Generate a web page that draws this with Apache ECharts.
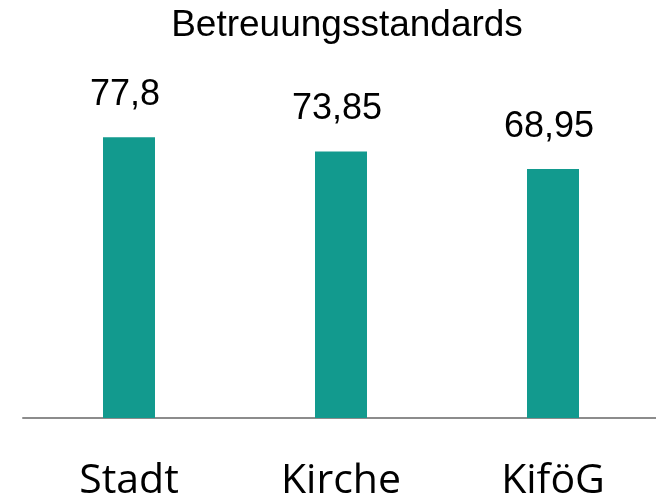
<!DOCTYPE html>
<html><head><meta charset="utf-8">
<script src="https://cdn.jsdelivr.net/npm/echarts@6/dist/echarts.min.js"></script>
<style>html,body{margin:0;padding:0;background:#fff}#c{width:656px;height:499px}</style>
</head><body><div id="c"></div>
<script>
const categories = ["Stadt", "Kirche", "KifötG".replace("öt","ö")];
const values = [77.8, 73.85, 68.95];
const valueLabels = ["77,8", "73,85", "68,95"];
const titleText = "Betreuungsstandards";

const chart = echarts.init(document.getElementById('c'));
chart.setOption({
  animation: false,
  title: { text: titleText, left: 342, textAlign: 'center', top: 2,
    textStyle: { fontFamily: 'Liberation Sans', fontSize: 37, fontWeight: 'normal', color: '#000' } },
  grid: { left: 23, right: -3, top: 57, bottom: 81, outerBoundsMode: 'none', containLabel: false },
  xAxis: { type: 'category', data: categories,
    axisLine: { lineStyle: { color: '#8c8c8c', width: 2 } },
    axisTick: { show: false },
    axisLabel: { fontFamily: 'Open Sans', fontSize: 41, color: '#000', margin: 43 } },
  yAxis: { type: 'value', min: 0, max: 100, show: false, splitLine: { show: false } },
  series: [{ type: 'bar', data: values, barWidth: 52,
    itemStyle: { color: '#129a8e' },
    label: { show: true, position: 'top', distance: 24, offset: [-4, 0],
      formatter: p => valueLabels[p.dataIndex],
      fontFamily: 'Liberation Sans', fontSize: 36, color: '#000' } }]
});
</script></body></html>
